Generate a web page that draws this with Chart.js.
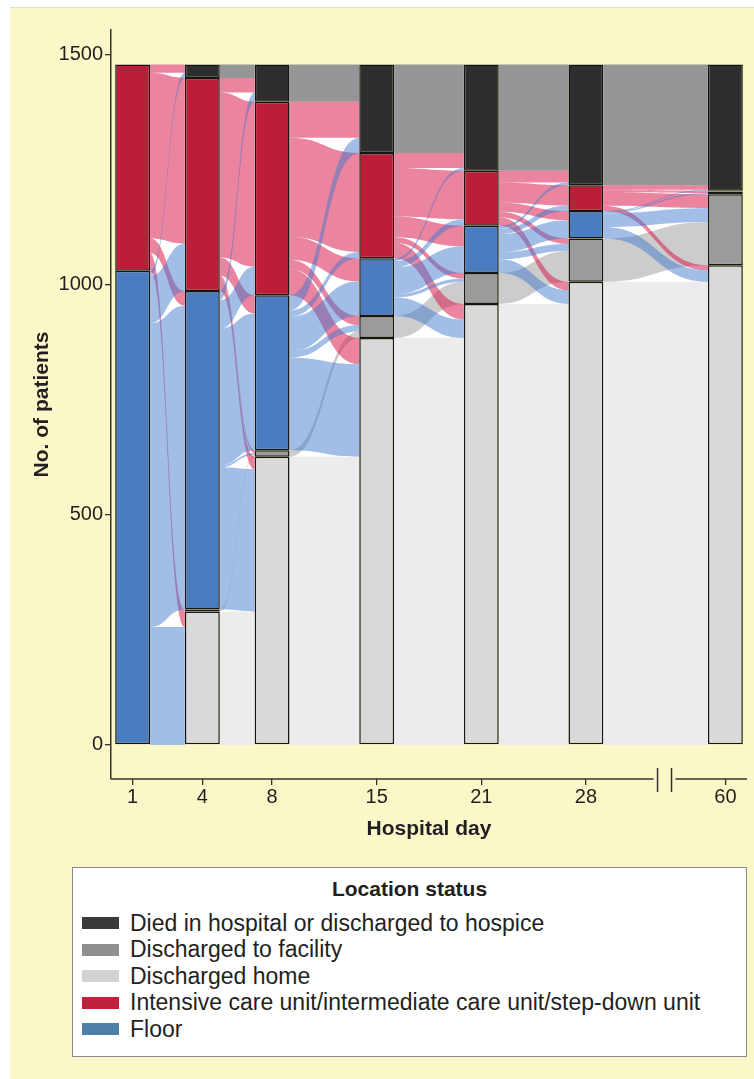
<!DOCTYPE html>
<html>
<head>
<meta charset="utf-8">
<script src="https://cdn.jsdelivr.net/npm/chart.js@4.4.1/dist/chart.umd.min.js"></script>
<style>
  html, body { margin: 0; padding: 0; background: #fff; }
  body { width: 754px; height: 1079px; position: relative; overflow: hidden; font-family: 'Liberation Sans', Arial, sans-serif; }
  #panel { position: absolute; left: 10px; top: 7px; right: 0; bottom: 0; background: #faf8c9; border-top: 1px solid #cdebd2; }
  #chartWrap { position: absolute; left: 0; top: 0; width: 754px; height: 860px; }
  #legend { position: absolute; left: 72px; top: 867px; width: 675px; height: 190px; box-sizing: border-box; background: #fff; border: 1px solid #8a8a8a; color: #231f20; }
  #legend h3 { margin: 0; font-size: 21px; font-weight: bold; text-align: center; position: absolute; top: 9px; left: 0; right: 0; line-height: 24px; }
  #legend ul { list-style: none; margin: 0; padding: 0; position: absolute; top: 42px; left: 9px; }
  #legend li { height: 26.5px; display: flex; align-items: center; font-size: 23px; white-space: nowrap; }
  #legend .sw { width: 37px; height: 12px; margin-right: 11px; flex: none; }
</style>
</head>
<body>
<div id="panel"></div>
<div id="chartWrap"><canvas id="alluvial" width="754" height="860"></canvas></div>
<div id="legend"></div>
<script>
// hospital days and where each one sits on the x axis (gap before day 60)
const days = ['1', '4', '8', '15', '21', '28', '60'];
const dayPos = [0, 2, 4, 7, 10, 13, 17];
const yTicks = [0, 500, 1000, 1500];

// stack order bottom -> top
const categoryNames = [
  'Discharged home',
  'Discharged to facility',
  'Floor',
  'Intensive care unit/intermediate care unit/step-down unit',
  'Died in hospital or discharged to hospice'
];
const home     = [0, 290, 626, 884, 958, 1006, 1042];
const facility = [0, 4, 14, 48, 67, 94, 154];
const floorPts = [1030, 692, 337, 125, 103, 60, 6];
const icu      = [448, 463, 420, 229, 119, 56, 2];
const died     = [0, 29, 81, 192, 231, 262, 274];

// patients moving between consecutive days
// rows = from, cols = to (home, facility, floor, icu, died)
const flow1to4 = [
  [0, 0, 0, 0, 0],
  [0, 0, 0, 0, 0],
  [256, 0, 660, 103, 11],
  [34, 4, 32, 360, 18],
  [0, 0, 0, 0, 0]
];
const flow4to8 = [
  [290, 0, 0, 0, 0],
  [0, 4, 0, 0, 0],
  [309, 4, 297, 62, 20],
  [27, 6, 40, 358, 32],
  [0, 0, 0, 0, 29]
];
const flow8to15 = [
  [626, 0, 0, 0, 0],
  [0, 14, 0, 0, 0],
  [201, 14, 75, 14, 33],
  [57, 20, 50, 215, 78],
  [0, 0, 0, 0, 81]
];
const flow15to21 = [
  [884, 0, 0, 0, 0],
  [0, 48, 0, 0, 0],
  [40, 7, 58, 14, 6],
  [34, 12, 45, 105, 33],
  [0, 0, 0, 0, 192]
];
const flow21to28 = [
  [958, 0, 0, 0, 0],
  [0, 67, 0, 0, 0],
  [30, 15, 40, 12, 6],
  [18, 12, 20, 44, 25],
  [0, 0, 0, 0, 231]
];
const flow28to60 = [
  [1006, 0, 0, 0, 0],
  [0, 94, 0, 0, 0],
  [25, 30, 3, 0, 2],
  [11, 30, 3, 2, 10],
  [0, 0, 0, 0, 262]
];

const stacks = [home, facility, floorPts, icu, died];
const transitions = [flow1to4, flow4to8, flow8to15, flow15to21, flow21to28, flow28to60];

const barColors = ['#d9d9d9', '#9b9b9b', '#4a7cc0', '#bc1d38', '#2e2e2e'];
const flowColors = [
  'rgba(217,217,217,0.5)',
  'rgba(154,154,154,0.5)',
  'rgba(60,120,205,0.48)',
  'rgba(215,20,70,0.52)',
  'rgba(45,45,45,0.5)'
];
const legendColors = ['#d3d3d3', '#8f8f8f', '#4d7fa8', '#c0213b', '#3a3a3a'];
const legendOrder = [4, 1, 0, 3, 2];
const flowDrawOrder = [0, 1, 4, 3, 2];
const axisBreak = { from: 14.94, to: 15.57 };

// cumulative top of each segment at a given day
function segmentTops(k) {
  let acc = 0;
  return stacks.map(arr => (acc += arr[k]));
}

function drawBand(ctx, x0, x1, a0, b0, a1, b1) {
  const xm = (x0 + x1) / 2;
  ctx.beginPath();
  ctx.moveTo(x0, a0);
  ctx.bezierCurveTo(xm, a0, xm, a1, x1, a1);
  ctx.lineTo(x1, b1);
  ctx.bezierCurveTo(xm, b1, xm, b0, x0, b0);
  ctx.closePath();
  ctx.fill();
}

const alluvialFlows = {
  id: 'alluvialFlows',
  beforeDatasetsDraw(chart) {
    const { ctx, scales: { x, y } } = chart;
    const half = chart.getDatasetMeta(0).data[0].width / 2;
    const n = stacks.length;
    ctx.save();
    transitions.forEach((m, k) => {
      const x0 = x.getPixelForValue(dayPos[k]) + half;
      const x1 = x.getPixelForValue(dayPos[k + 1]) - half;
      const topsL = segmentTops(k);
      const topsR = segmentTops(k + 1);
      const total = topsL[n - 1];

      ctx.fillStyle = '#ffffff';
      ctx.fillRect(x0, y.getPixelForValue(total), x1 - x0, y.getPixelForValue(0) - y.getPixelForValue(total));

      // outgoing lodes stacked by target, incoming by source (top first)
      const outTop = m.map(() => new Array(n).fill(0));
      const inTop = m.map(() => new Array(n).fill(0));
      for (let s = 0; s < n; s++) {
        let cur = topsL[s];
        for (let t = n - 1; t >= 0; t--) { outTop[s][t] = cur; cur -= m[s][t]; }
      }
      for (let t = 0; t < n; t++) {
        let cur = topsR[t];
        for (let s = n - 1; s >= 0; s--) { inTop[s][t] = cur; cur -= m[s][t]; }
      }

      flowDrawOrder.forEach(s => {
        ctx.fillStyle = flowColors[s];
        for (let t = n - 1; t >= 0; t--) {
          const v = m[s][t];
          if (!v) continue;
          drawBand(ctx, x0, x1,
            y.getPixelForValue(outTop[s][t]), y.getPixelForValue(outTop[s][t] - v),
            y.getPixelForValue(inTop[s][t]), y.getPixelForValue(inTop[s][t] - v));
        }
      });
    });
    ctx.restore();
  },
  afterDraw(chart) {
    // x axis line with a break before day 60
    const { ctx, chartArea, scales: { x } } = chart;
    const yb = chartArea.bottom;
    const bx0 = x.getPixelForValue(axisBreak.from);
    const bx1 = x.getPixelForValue(axisBreak.to);
    ctx.save();
    ctx.strokeStyle = '#333';
    ctx.lineWidth = 1.5;
    ctx.beginPath();
    ctx.moveTo(chartArea.left, yb);
    ctx.lineTo(bx0, yb);
    ctx.moveTo(bx1, yb);
    ctx.lineTo(chartArea.right, yb);
    ctx.moveTo(bx0 + 4, yb - 11);
    ctx.lineTo(bx0 + 4, yb + 13);
    ctx.moveTo(bx1 - 4, yb - 11);
    ctx.lineTo(bx1 - 4, yb + 13);
    ctx.stroke();
    ctx.restore();
  }
};

Chart.defaults.font.family = "'Liberation Sans', Arial, Helvetica, sans-serif";
Chart.defaults.color = '#231f20';

const chart = new Chart(document.getElementById('alluvial'), {
  type: 'bar',
  data: {
    datasets: stacks.map((vals, c) => ({
      label: categoryNames[c],
      data: dayPos.map((xv, i) => ({ x: xv, y: vals[i] })),
      backgroundColor: barColors[c],
      borderColor: '#151515',
      borderWidth: 1.5,
      borderSkipped: false,
      categoryPercentage: 1,
      barPercentage: 0.5
    }))
  },
  options: {
    responsive: false,
    animation: false,
    devicePixelRatio: 1,
    layout: { padding: { top: 30, right: 7, bottom: 0, left: 0 } },
    plugins: { legend: { display: false }, tooltip: { enabled: false } },
    scales: {
      x: {
        type: 'linear',
        stacked: true,
        offset: false,
        min: -0.62,
        max: 17.62,
        afterBuildTicks: s => { s.ticks = dayPos.map(v => ({ value: v })); },
        afterFit: s => { s.height = 81; },
        ticks: {
          callback: v => days[dayPos.indexOf(v)],
          font: { size: 20 },
          padding: 0,
          maxRotation: 0,
          autoSkip: false
        },
        grid: { offset: false, drawOnChartArea: false, tickLength: 6, color: '#333', lineWidth: 1.3 },
        border: { display: false },
        title: {
          display: true,
          text: 'Hospital day',
          font: { size: 21, weight: 'bold' },
          padding: { top: 0, bottom: 18 }
        }
      },
      y: {
        stacked: true,
        min: -74,
        max: 1553,
        afterBuildTicks: s => { s.ticks = yTicks.map(v => ({ value: v })); },
        afterFit: s => { s.width = 111; },
        ticks: { font: { size: 20 }, padding: 2, callback: v => String(v) },
        grid: { drawOnChartArea: false, tickLength: 6, color: '#333', lineWidth: 1.3 },
        border: { display: true, color: '#333', width: 1.5 },
        title: {
          display: true,
          text: 'No. of patients',
          font: { size: 21, weight: 'bold' },
          padding: { top: 30, bottom: 0 }
        }
      }
    }
  },
  plugins: [alluvialFlows]
});

// html legend from the chart's datasets
const legendEl = document.getElementById('legend');
const title = document.createElement('h3');
title.textContent = 'Location status';
legendEl.appendChild(title);
const list = document.createElement('ul');
legendOrder.forEach(c => {
  const li = document.createElement('li');
  const sw = document.createElement('span');
  sw.className = 'sw';
  sw.style.background = legendColors[c];
  li.appendChild(sw);
  li.appendChild(document.createTextNode(chart.data.datasets[c].label));
  list.appendChild(li);
});
legendEl.appendChild(list);
</script>
</body>
</html>
